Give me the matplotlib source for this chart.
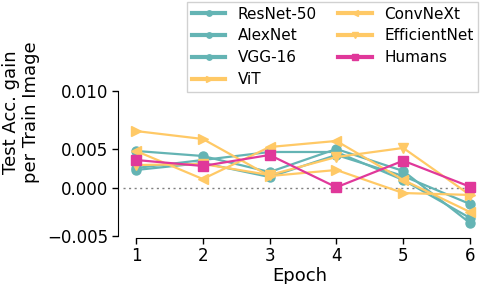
import numpy as np
import matplotlib
matplotlib.use("Agg")
import matplotlib.pyplot as plt
from matplotlib.ticker import FixedLocator, FuncFormatter

# ---- data ----
epochs = [1, 2, 3, 4, 5, 6]
resnet50 = [0.00475, 0.00411, 0.00207, 0.00500, 0.00220, -0.00366]
alexnet = [0.00258, 0.00360, 0.00462, 0.00462, 0.00106, -0.00313]
vgg16 = [0.00233, 0.00322, 0.00144, 0.00424, 0.00156, -0.00166]
vit = [0.00654, 0.00586, 0.00156, 0.00233, -0.00050, -0.00070]
convnext = [0.00475, 0.00118, 0.00517, 0.00569, 0.00106, -0.00250]
efficientnet = [0.00296, 0.00309, 0.00169, 0.00398, 0.00509, -0.00070]
humans = [0.00360, 0.00284, 0.00424, 0.00013, 0.00351, 0.00020]

labels = ["ResNet-50", "AlexNet", "VGG-16", "ViT", "ConvNeXt", "EfficientNet", "Humans"]
yticks = [-0.005, 0.0, 0.005, 0.010]

TEAL = "#64b4b4"
YELLOW = "#ffc966"
MAGENTA = "#e0389a"

# piecewise-linear y scale (tick spacing in the reference is non-uniform)
KV = np.array([-1.0, -0.005, 0.0, 0.005, 0.010, 1.0])
KP = np.array([-47.4 / 0.005 * 0.995, 0.0, 47.4, 86.7, 145.0, 145.0 + 58.3 / 0.005 * 0.99])


def fwd(v):
    return np.interp(np.asarray(v, dtype=float), KV, KP)


def inv(p):
    return np.interp(np.asarray(p, dtype=float), KP, KV)


fig = plt.figure(figsize=(4.8, 2.84), dpi=100)
ax = fig.add_axes([122.6 / 480, (284 - 237.5) / 284, (476.7 - 122.6) / 480, 146.8 / 284])
ax.set_yscale("function", functions=(fwd, inv))

series = [
    (resnet50, TEAL, "o", 6.5),
    (alexnet, TEAL, "o", 6.5),
    (vgg16, TEAL, "o", 6.5),
    (vit, YELLOW, ">", 7.5),
    (convnext, YELLOW, "<", 7.5),
    (efficientnet, YELLOW, "v", 7.5),
    (humans, MAGENTA, "s", 7),
]

ax.hlines(0, 0.8, 6.0, colors="#808080", linestyles=(0, (1.5, 2.5)), linewidth=1, zorder=1)

handles = []
for (vals, col, mk, ms), lab in zip(series, labels):
    h, = ax.plot(epochs, vals, color=col, marker=mk, markersize=ms, linewidth=1.6,
                 label=lab, clip_on=False, zorder=3)
    handles.append(h)

ax.set_xlim(0.8, 6.1)
ax.set_ylim(-0.00519, 0.010)
ax.set_xticks(epochs)
ax.yaxis.set_major_locator(FixedLocator(yticks))
ax.yaxis.set_minor_locator(FixedLocator([]))
ax.yaxis.set_major_formatter(FuncFormatter(lambda v, p: f"{v:.3f}".replace("-", "\u2212")))

for s in ("top", "right"):
    ax.spines[s].set_visible(False)
ax.spines["left"].set_position(("outward", 3.3))
ax.spines["left"].set_bounds(-0.005, 0.010)
ax.spines["bottom"].set_bounds(1, 6)
ax.tick_params(axis="both", labelsize=12, length=4, width=1, pad=3)

ax.set_xlabel("Epoch", fontsize=13, labelpad=1)
ax.set_ylabel("Test Acc. gain\nper Train Image", fontsize=13, va="center", ha="center",
              multialignment="center")
ax.yaxis.set_label_coords(21 / 480, 1 - 112 / 284, transform=fig.transFigure)

leg = fig.legend(handles, labels, ncol=2, loc="upper right",
                 bbox_to_anchor=(478 / 480, 282 / 284), bbox_transform=fig.transFigure,
                 fontsize=11, handlelength=2.2, handletextpad=0.8, columnspacing=1.4,
                 labelspacing=0.45, borderpad=0.3, markerscale=0.6, fancybox=False,
                 edgecolor="0.8", framealpha=0.9, borderaxespad=0)
for ln in leg.get_lines():
    ln.set_linewidth(3)

fig.savefig("out.png", dpi=100)
